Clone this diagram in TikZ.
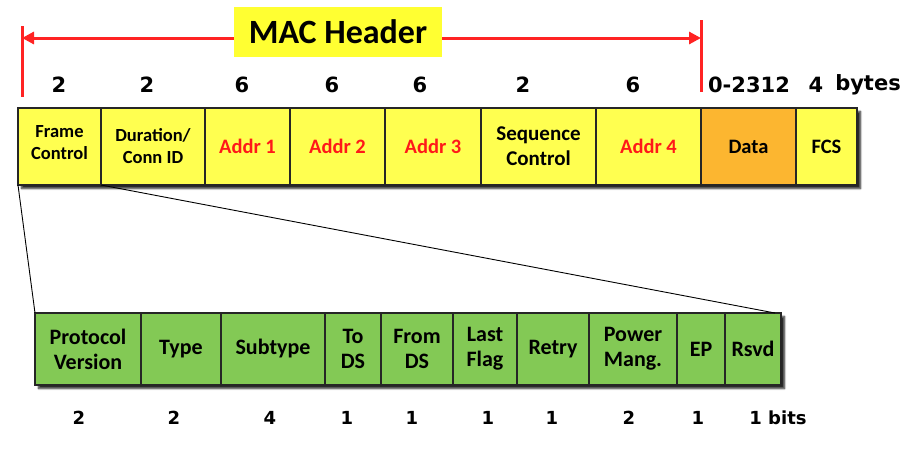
\documentclass[tikz,border=0pt]{standalone}
\usepackage{fontspec}
\setmainfont{Carlito}
\newfontfamily\numfont{DejaVu Sans}
\usetikzlibrary{arrows.meta,shadows.blur,backgrounds,fit}
\definecolor{fieldyellow}{RGB}{255,255,80}
\definecolor{headyellow}{RGB}{255,255,50}
\definecolor{dataorange}{RGB}{252,182,48}
\definecolor{fieldgreen}{RGB}{131,201,85}
\definecolor{addrred}{RGB}{255,25,25}
\definecolor{arrowred}{RGB}{255,35,35}
\begin{document}
\begin{tikzpicture}[x=1pt,y=-1pt,
  field/.style={draw=black!85, line width=1.6pt, fill=fieldyellow, anchor=north west,
    inner sep=0pt, outer sep=0pt, align=center, minimum height=77pt,
    font=\bfseries\fontsize{20.5}{24}\selectfont},
  bitfield/.style={field, fill=fieldgreen, minimum height=72pt,
    font=\bfseries\fontsize{22}{25}\selectfont},
  addr/.style={text=addrred},
  num/.style={font=\numfont\bfseries\fontsize{21}{22}\selectfont, inner sep=0pt},
  bitnum/.style={font=\numfont\bfseries\fontsize{18}{20}\selectfont, inner sep=0pt},
  redline/.style={draw=arrowred, line width=3pt},
  zoomline/.style={draw=black, line width=0.9pt},
  rowshadow/.style={draw=none, fill=white, inner sep=0pt, outer sep=0pt,
    blur shadow={shadow xshift=3.5pt, shadow yshift=-3.5pt, shadow blur steps=5, shadow opacity=85}}]
\useasboundingbox (0,0) rectangle (907,453);

% header fields
\node[field, minimum width=83pt, font=\bfseries\fontsize{18.5}{22}\selectfont] (f1) at (18,108) {Frame\\Control\\[-20.5pt]\strut};
\node[field, minimum width=104pt, font=\bfseries\fontsize{18.5}{22}\selectfont] (f2) at (101,108) {Duration/\\Conn ID};
\node[field, addr, minimum width=85pt] (f3) at (205,108) {Addr 1};
\node[field, addr, minimum width=95pt] (f4) at (290,108) {Addr 2};
\node[field, addr, minimum width=96pt] (f5) at (385,108) {Addr 3};
\node[field, minimum width=115pt, font=\bfseries\fontsize{21}{25}\selectfont] (f6) at (481,108) {Sequence\\Control};
\node[field, addr, minimum width=105pt] (f7) at (596,108) {Addr 4};
\node[field, fill=dataorange, minimum width=95pt] (f8) at (701,108) {Data};
\node[field, minimum width=61pt] (f9) at (796,108) {FCS};

% bit fields
\node[bitfield, minimum width=106pt] (p1) at (35,313) {Protocol\\Version};
\node[bitfield, minimum width=80pt] (p2) at (141,313) {Type};
\node[bitfield, minimum width=104pt] (p3) at (221,313) {Subtype};
\node[bitfield, minimum width=56pt] (p4) at (325,313) {To\\DS};
\node[bitfield, minimum width=72pt] (p5) at (381,313) {From\\DS};
\node[bitfield, minimum width=64pt] (p6) at (453,313) {Last\\Flag};
\node[bitfield, minimum width=72pt] (p7) at (517,313) {Retry};
\node[bitfield, minimum width=88pt] (p8) at (589,313) {Power\\Mang.};
\node[bitfield, minimum width=48pt] (p9) at (677,313) {EP};
\node[bitfield, minimum width=56pt] (p10) at (725,313) {Rsvd};

% shadows
\begin{scope}[on background layer]
\node[rowshadow, fit=(f1)(f9)] (topshadow) {};
\node[rowshadow, fit=(p1)(p10)] (botshadow) {};
\end{scope}

% zoom lines
\draw[zoomline] (f1.south west) -- (p1.north west);
\draw[zoomline] (f1.south east) -- ([xshift=-6pt]p10.north east);

% MAC header arrow
\coordinate (ltop) at (22,26);
\coordinate (lbot) at (22,97);
\coordinate (rtop) at (701,20);
\coordinate (rbot) at (701,92);
\coordinate (larr) at (22,38);
\coordinate (rarr) at (701,38);
\draw[redline] (ltop) -- (lbot);
\draw[redline] (rtop) -- (rbot);
\draw[redline, {Triangle[length=12pt,width=12pt]}-{Triangle[length=12pt,width=12pt]}] (larr) -- (rarr);
\node[fill=headyellow, minimum width=208pt, minimum height=50pt, inner sep=0pt,
  font=\bfseries\fontsize{34}{36}\selectfont] (mac) at (338,32) {MAC Header};

% byte counts
\node[num] (n1) at (59,85) {2};
\node[num] (n2) at (147,85) {2};
\node[num] (n3) at (242,85) {6};
\node[num] (n4) at (332,85) {6};
\node[num] (n5) at (420,85) {6};
\node[num] (n6) at (523,85) {2};
\node[num] (n7) at (633,85) {6};
\node[num] (n8) at (749,85) {0-2312};
\node[num] (n9) at (816,85) {4};
\node[num] (n10) at (868,85) {bytes};

% bit counts
\node[bitnum] (b1) at (79,418) {2};
\node[bitnum] (b2) at (174,418) {2};
\node[bitnum] (b3) at (270,418) {4};
\node[bitnum] (b4) at (347,418) {1};
\node[bitnum] (b5) at (412,418) {1};
\node[bitnum] (b6) at (488,418) {1};
\node[bitnum] (b7) at (552,418) {1};
\node[bitnum] (b8) at (629,418) {2};
\node[bitnum] (b9) at (698,418) {1};
\node[bitnum] (b10) at (778,418) {1 bits};
\end{tikzpicture}
\end{document}
